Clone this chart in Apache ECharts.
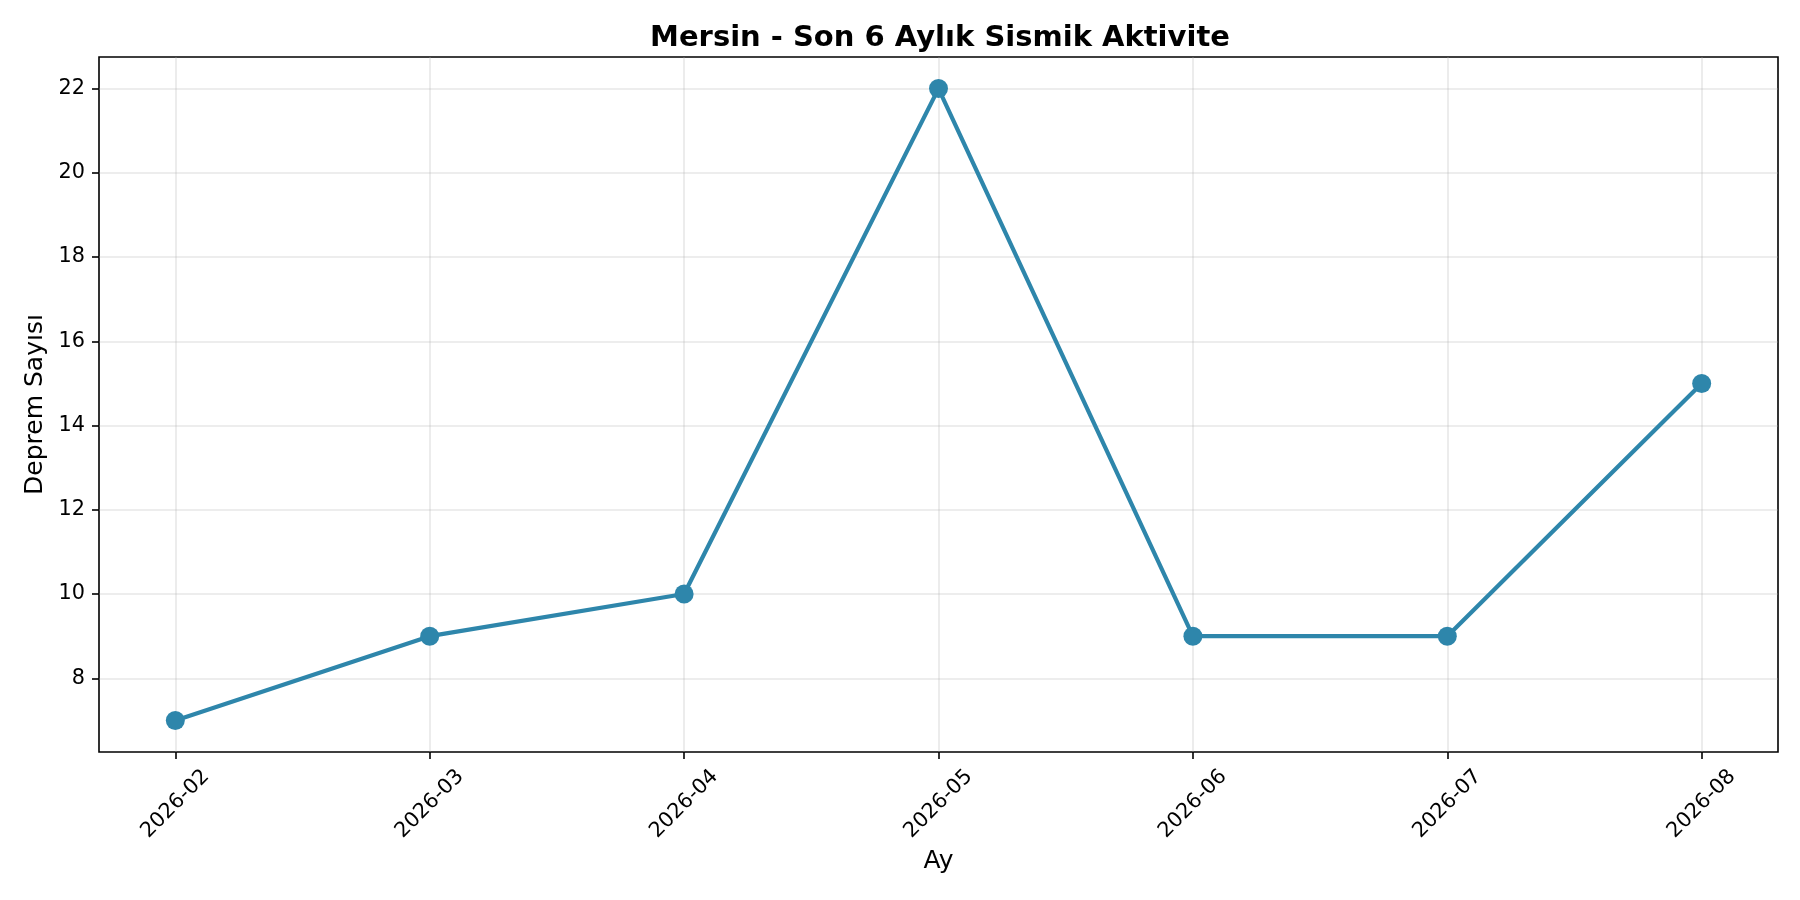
<!DOCTYPE html>
<html>
<head>
<meta charset="utf-8">
<script src="https://cdn.jsdelivr.net/npm/echarts@6/dist/echarts.min.js"></script>
<style>html,body{margin:0;padding:0;background:#fff}#c{width:1800px;height:900px}</style>
</head>
<body>
<div id="c"></div>
<script>
const titleText = 'Mersin - Son 6 Aylık Sismik Aktivite';
const xName = 'Ay';
const yName = 'Deprem Sayısı';
const months = ['2026-02','2026-03','2026-04','2026-05','2026-06','2026-07','2026-08'];
const counts = [7, 9, 10, 22, 9, 9, 15];
const yTicks = [8, 10, 12, 14, 16, 18, 20, 22];

const xIdx = months.map((m, i) => i);
const seriesData = counts.map((v, i) => [i, v]);
const font = 'DejaVu Sans';
const gridColor = 'rgba(176,176,176,0.3)';

const chart = echarts.init(document.getElementById('c'), null, {renderer: 'canvas'});
chart.setOption({
  animation: false,
  backgroundColor: '#ffffff',
  title: {
    text: titleText,
    left: 935, top: 19, textAlign: 'center',
    textStyle: {fontFamily: font, fontSize: 29, fontWeight: 'bold', color: '#000'}
  },
  grid: {
    left: 99, right: 22, top: 57, bottom: 148,
    show: true, borderColor: '#000', borderWidth: 1.6, backgroundColor: 'transparent'
  },
  xAxis: {
    type: 'value',
    min: -0.3, max: 6.3,
    name: xName, nameLocation: 'middle', nameGap: 94,
    nameTextStyle: {fontFamily: font, fontSize: 25, color: '#000'},
    axisLine: {show: false, onZero: false},
    axisTick: {show: true, customValues: xIdx, length: 7, inside: false, lineStyle: {color: '#000', width: 1.6}},
    axisLabel: {
      customValues: xIdx, rotate: 45, margin: 52, align: 'center', verticalAlign: 'middle',
      fontFamily: font, fontSize: 20.8, color: '#000',
      formatter: v => months[Math.round(v)]
    },
    splitLine: {show: true, lineStyle: {color: gridColor, width: 1.6}}
  },
  yAxis: {
    type: 'value',
    min: 6.25, max: 22.75,
    name: yName, nameLocation: 'middle', nameGap: 50, nameRotate: 90,
    nameTextStyle: {fontFamily: font, fontSize: 25, color: '#000'},
    axisLine: {show: false, onZero: false},
    axisTick: {show: true, customValues: yTicks, length: 7, inside: false, lineStyle: {color: '#000', width: 1.6}},
    axisLabel: {customValues: yTicks, margin: 14, fontFamily: font, fontSize: 20.8, color: '#000'},
    splitLine: {show: true, lineStyle: {color: gridColor, width: 1.6}}
  },
  series: [{
    type: 'line',
    data: seriesData,
    symbol: 'circle',
    symbolSize: 19,
    lineStyle: {color: '#2E86AB', width: 4.2},
    itemStyle: {color: '#2E86AB'},
    z: 3
  }]
});
</script>
</body>
</html>
